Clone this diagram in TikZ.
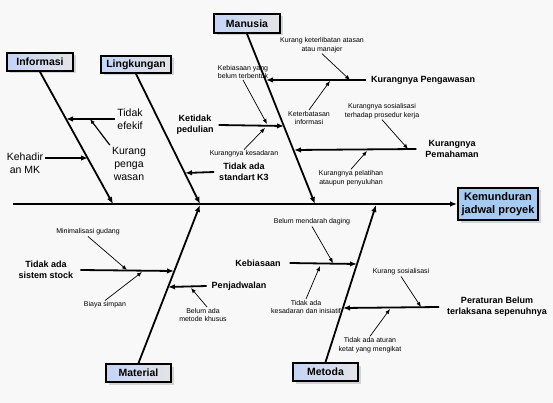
\documentclass[tikz,border=0pt]{standalone}
\usepackage{fontspec}
\setmainfont{Liberation Sans}
\usepackage{tikz}
\usetikzlibrary{arrows.meta, shadows}

\definecolor{bgpaper}{RGB}{248,248,248}
\definecolor{effectblue}{RGB}{166,202,240}
\definecolor{catblue}{RGB}{196,212,246}
\definecolor{catgray}{RGB}{228,228,230}

\begin{document}
\begin{tikzpicture}[x=1pt, y=-1pt, >={Latex[length=7pt,width=5.5pt]},
    catbox/.style={draw, line width=1.8pt, inner sep=0pt, minimum height=18pt,
        left color=catblue, right color=catgray,
        font=\bfseries\fontsize{10.5}{12}\selectfont,
        drop shadow={shadow xshift=2.5pt, shadow yshift=-2.5pt, fill=gray!70, opacity=.45}},
    effectbox/.style={draw, line width=1.8pt, fill=effectblue, align=center,
        minimum width=80pt, minimum height=32pt, inner sep=0pt,
        font=\bfseries\fontsize{11}{13}\selectfont,
        drop shadow={shadow xshift=2.5pt, shadow yshift=-2.5pt, fill=gray!70, opacity=.45}},
    cause/.style={align=center, inner xsep=5pt, inner ysep=1pt,
        font=\bfseries\fontsize{9}{11}\selectfont},
    plaintxt/.style={align=center, inner sep=2pt, font=\fontsize{10.5}{13}\selectfont},
    note/.style={align=center, inner sep=1pt, font=\fontsize{7}{8.5}\selectfont},
    bone/.style={line width=1.8pt, ->},
    twig/.style={line width=0.7pt, -{Latex[length=5pt,width=4pt]}},
]

    % =================================================================
    % 1. NEN VA KHUNG
    % =================================================================
    \useasboundingbox[fill=bgpaper] (0,0) rectangle (553,403);

    % =================================================================
    % 2. CAC HOP: AKIBAT VA NHOM NGUYEN NHAN
    % =================================================================
    \node[effectbox] (effect) at (498,204) {Kemunduran\\jadwal proyek};
    \node[catbox, minimum width=66pt] (informasi) at (40,62) {Informasi};
    \node[catbox, minimum width=70pt, minimum height=17pt] (lingkungan) at (136,64.5) {Lingkungan};
    \node[catbox, minimum width=66pt, minimum height=19pt] (manusia) at (247,23.5) {Manusia};
    \node[catbox, minimum width=65pt] (material) at (138.5,373) {Material};
    \node[catbox, minimum width=65pt] (metoda) at (325.5,372) {Metoda};

    % =================================================================
    % 3. XUONG CA CHINH
    % =================================================================
    \coordinate (tail) at (13,204);
    \coordinate (spInf) at (113,204);
    \coordinate (spLing) at (200,204);
    \coordinate (spMan) at (315,204);
    \coordinate (spMat) at (200,205);
    \coordinate (spMet) at (376,205);

    \draw[bone] (tail) -- (effect.west);
    \draw[bone] (informasi.south) -- (spInf);
    \draw[bone] (lingkungan.south) -- (spLing);
    \draw[bone] (manusia.south) -- (spMan);
    \draw[bone] (material.north) -- (spMat);
    \draw[bone] (metoda.north) -- (spMet);

    % =================================================================
    % 4. NHANH: INFORMASI
    % =================================================================
    \coordinate (inf1) at (66,119);
    \coordinate (inf2) at (88,158);
    \coordinate (inf1b) at (90,119);
    \node[plaintxt] (tidakefektif) at (130,119) {Tidak\\efekif};
    \node[plaintxt] (kurangawas) at (129,164) {Kurang\\penga\\wasan};
    \node[plaintxt] (kehadiran) at (25,163) {Kehadir\\an MK};
    \draw[bone] (tidakefektif.west) -- (inf1);
    \draw[bone] ([yshift=5pt]kehadiran.east) -- (inf2);
    \draw[twig, line width=1.2pt] (kurangawas.north west) -- (inf1b);

    % =================================================================
    % 5. NHANH: LINGKUNGAN
    % =================================================================
    \coordinate (ling1) at (185,173);
    \node[cause] (standart) at (244,172) {Tidak ada\\standart K3};
    \draw[bone] (standart.west) -- (ling1);

    % =================================================================
    % 6. NHANH: MANUSIA
    % =================================================================
    \coordinate (man1) at (266,80);
    \coordinate (man2) at (284,126);
    \coordinate (man3) at (294,150);
    \node[cause, anchor=west] (pengawasan) at (366,80) {Kurangnya Pengawasan};
    \node[cause] (pedulian) at (195,125) {Ketidak\\pedulian};
    \node[cause] (pemahaman) at (452,149) {Kurangnya\\Pemahaman};
    \draw[bone] (pengawasan.west) -- (man1);
    \draw[bone] (pedulian.east) -- (man2);
    \draw[bone] ([xshift=-4pt]pemahaman.west) -- (man3);

    \coordinate (man1a) at (350,80);
    \coordinate (man1b) at (330,81);
    \coordinate (man2a) at (267,124);
    \coordinate (man2b) at (265,128);
    \coordinate (man3a) at (408,149);
    \coordinate (man3b) at (367,151);
    \node[note] (keterlibatan) at (322,45) {Kurang keterlibatan atasan\\atau manajer};
    \node[note] (keterbatasan) at (309,118) {Keterbatasan\\informasi};
    \node[note] (belumbentuk) at (243,72) {Kebiasaan yang\\belum terbentuk};
    \node[note] (kesadaran) at (244,154) {Kurangnya kesadaran};
    \node[note] (prosedur) at (382,111) {Kurangnya sosialisasi\\terhadap prosedur kerja};
    \node[note] (pelatihan) at (351,178) {Kurangnya pelatihan\\ataupun penyuluhan};
    \draw[twig] (keterlibatan.south) -- (man1a);
    \draw[twig] (keterbatasan.north) -- (man1b);
    \draw[twig] (belumbentuk.south) -- (man2a);
    \draw[twig] (kesadaran.north) -- (man2b);
    \draw[twig] (prosedur.south) -- (man3a);
    \draw[twig] (pelatihan.north) -- (man3b);

    % =================================================================
    % 7. NHANH: MATERIAL
    % =================================================================
    \coordinate (mat1) at (174,271);
    \coordinate (mat2) at (168,287);
    \node[cause] (stock) at (46,270) {Tidak ada\\sistem stock};
    \node[cause] (jadwal) at (239,286) {Penjadwalan};
    \draw[bone] ([xshift=2pt]stock.east) -- (mat1);
    \draw[bone] (jadwal.west) -- (mat2);

    \coordinate (mat1a) at (127,270);
    \coordinate (mat1b) at (142,272);
    \coordinate (mat2a) at (191,288);
    \node[note] (gudang) at (88,232) {Minimalisasi gudang};
    \node[note] (simpan) at (105,305) {Biaya simpan};
    \node[note] (metodekhusus) at (203,315) {Belum ada\\metode khusus};
    \draw[twig] (gudang.south) -- (mat1a);
    \draw[twig] (simpan.north) -- (mat1b);
    \draw[twig] ([xshift=4pt]metodekhusus.north) -- (mat2a);

    % =================================================================
    % 8. NHANH: METODA
    % =================================================================
    \coordinate (met1) at (357,264);
    \coordinate (met2) at (343,308);
    \node[cause] (kebiasaan) at (258,263) {Kebiasaan};
    \node[cause] (peraturan) at (497,307) {Peraturan Belum\\terlaksana sepenuhnya};
    \draw[bone] ([xshift=4pt]kebiasaan.east) -- (met1);
    \draw[bone] ([xshift=-3pt]peraturan.west) -- (met2);

    \coordinate (met1a) at (333,263);
    \coordinate (met1b) at (320,266);
    \coordinate (met2a) at (421,307);
    \coordinate (met2b) at (390,309);
    \node[note] (mendarah) at (312,222) {Belum mendarah daging};
    \node[note] (inisiatif) at (306,307) {Tidak ada\\kesadaran dan inisiatif};
    \node[note] (sosialisasi) at (401,272) {Kurang sosialisasi};
    \node[note] (aturan) at (370,345) {Tidak ada aturan\\ketat yang mengikat};
    \draw[twig] (mendarah.south) -- (met1a);
    \draw[twig] (inisiatif.north) -- (met1b);
    \draw[twig] (sosialisasi.south) -- (met2a);
    \draw[twig] (aturan.north) -- (met2b);

\end{tikzpicture}
\end{document}
